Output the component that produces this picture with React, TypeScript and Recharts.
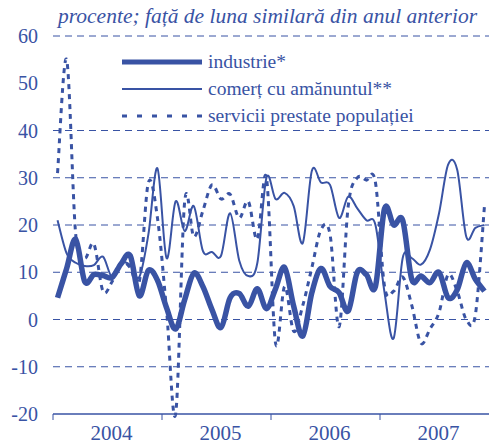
import React from 'react';
import { LineChart, Line, XAxis, YAxis, ReferenceLine } from 'recharts';

const years = ['2004', '2005', '2006', '2007'];

// monthly values, Jan 2004 .. Dec 2007
const industrie = [
  4.6, 10.8, 17, 8, 9.5, 9.3, 8.9, 11.8, 13.5, 5, 10.4, 8.3,
  2.5, -2, 4.2, 9.8, 7, 2.1, -1.7, 4.6, 5.5, 2.8, 6.5, 2.3,
  6.5, 11, 2.8, -3.5, 5.7, 10.8, 7, 5.7, 1.8, 10, 9.5, 7,
  23.5, 20, 21, 8.5, 9.2, 7.8, 10, 4.6, 6.3, 12, 8.5, 6,
];
const comert = [
  21, 14, 12, 11.3, 11.5, 13.3, 9, 12, 11.5, 9, 18, 32,
  13, 25, 18.7, 24, 14.5, 14.3, 13.5, 22.5, 12.5, 9.2, 12, 30,
  25.5, 26.8, 24, 16.2, 31.5, 29, 28.5, 21.5, 26, 23.5, 21, 20,
  5.7, -4, 13, 13, 11.6, 14.8, 22.5, 32.8, 31.7, 17.5, 19.4, 20,
];
const servicii = [
  31, 55, 18, 13, 16, 6, 8, 12, 11, 8, 29, 21.5,
  2, -20, 25, 17.5, 23, 28.5, 25.5, 26.5, 21.5, 25, 17, 30,
  -5, 7, -2.5, 3, 11, 19, 18, -1.5, 24, 30, 29.5, 29,
  7, 6, 9, 3, -5, -2, 1.5, 9.5, 6, 0, 1, 24,
];

const yTicks = [-20, -10, 0, 10, 20, 30, 40, 50, 60];
const gridValues = [60, 40, 30, 20, 10, 0, -10];
const xTicks = [0, 6, 12, 18, 24, 30, 36, 42];

const data = industrie.map((v, i) => ({
  m: i + 0.5,
  industrie: v,
  comert: comert[i],
  servicii: servicii[i],
}));

const BLUE = '#3953a4';
const FONT = '"Liberation Serif", "Times New Roman", serif';

// Excel-like smoothed line (Catmull-Rom through the points)
const smooth = (context: any) => {
  let pts: [number, number][] = [];
  return {
    areaStart() {},
    areaEnd() {},
    lineStart() {
      pts = [];
    },
    point(x: number, y: number) {
      pts.push([+x, +y]);
    },
    lineEnd() {
      if (!pts.length) return;
      context.moveTo(pts[0][0], pts[0][1]);
      const t = 1 / 6;
      for (let i = 0; i < pts.length - 1; i++) {
        const p0 = pts[i - 1] || pts[i];
        const p1 = pts[i];
        const p2 = pts[i + 1];
        const p3 = pts[i + 2] || p2;
        context.bezierCurveTo(
          p1[0] + (p2[0] - p0[0]) * t,
          p1[1] + (p2[1] - p0[1]) * t,
          p2[0] - (p3[0] - p1[0]) * t,
          p2[1] - (p3[1] - p1[1]) * t,
          p2[0],
          p2[1]
        );
      }
    },
  };
};

const YearTick = (props: any) => {
  const { x, y, payload } = props;
  const v = payload.value;
  if (v % 12 === 0) {
    return <line x1={x} x2={x} y1={y - 6} y2={y} stroke={BLUE} strokeWidth={1} />;
  }
  return (
    <text x={x + 4} y={y + 20} textAnchor="middle" fill={BLUE} fontFamily={FONT} fontSize={21}>
      {years[Math.floor(v / 12)]}
    </text>
  );
};

const legendItems = [
  { label: 'industrie*', width: 5, dash: undefined },
  { label: 'comerț cu amănuntul**', width: 2, dash: undefined },
  { label: 'servicii prestate populației', width: 3, dash: '5 10' },
];

export default function App() {
  return (
    <div style={{ position: 'absolute', left: 0, top: 0, width: 489, height: 446, background: '#fff' }}>
      <LineChart width={489} height={446} data={data} margin={{ top: 36, right: 0, left: 0, bottom: 0 }}>
        {gridValues.map((g) => (
          <ReferenceLine key={g} y={g} stroke={BLUE} strokeDasharray="7 5" strokeWidth={1} />
        ))}
        <XAxis
          dataKey="m"
          type="number"
          domain={[0, 48]}
          ticks={xTicks}
          interval={0}
          tick={<YearTick />}
          tickLine={false}
          tickSize={6}
          tickMargin={0}
          height={32}
          axisLine={{ stroke: BLUE, strokeWidth: 1.5 }}
        />
        <YAxis
          domain={[-20, 60]}
          ticks={yTicks}
          interval={0}
          width={53}
          axisLine={false}
          tickLine={false}
          tickMargin={9}
          tick={{ fill: BLUE, fontFamily: FONT, fontSize: 20 }}
        />
        <Line type={smooth as any} dataKey="servicii" stroke={BLUE} strokeWidth={3} strokeDasharray="5 5" dot={false} isAnimationActive={false} />
        <Line type={smooth as any} dataKey="comert" stroke={BLUE} strokeWidth={2} dot={false} isAnimationActive={false} />
        <Line type={smooth as any} dataKey="industrie" stroke={BLUE} strokeWidth={5.5} dot={false} isAnimationActive={false} />
      </LineChart>
      <div
        style={{
          position: 'absolute',
          left: 58,
          top: 4,
          fontFamily: FONT,
          fontStyle: 'italic',
          fontSize: 21.5,
          color: BLUE,
          whiteSpace: 'nowrap',
        }}
      >
        procente; față de luna similară din anul anterior
      </div>
      <div style={{ position: 'absolute', left: 122, top: 48 }}>
        {legendItems.map((it) => (
          <div key={it.label} style={{ display: 'flex', alignItems: 'center', height: 27 }}>
            <svg width={80} height={10} style={{ marginRight: 6 }}>
              <line x1={0} x2={80} y1={5} y2={5} stroke={BLUE} strokeWidth={it.width} strokeDasharray={it.dash} strokeLinecap={it.width > 4 ? 'round' : 'butt'} />
            </svg>
            <span style={{ fontFamily: FONT, fontSize: 19.5, color: BLUE, whiteSpace: 'nowrap' }}>{it.label}</span>
          </div>
        ))}
      </div>
    </div>
  );
}
